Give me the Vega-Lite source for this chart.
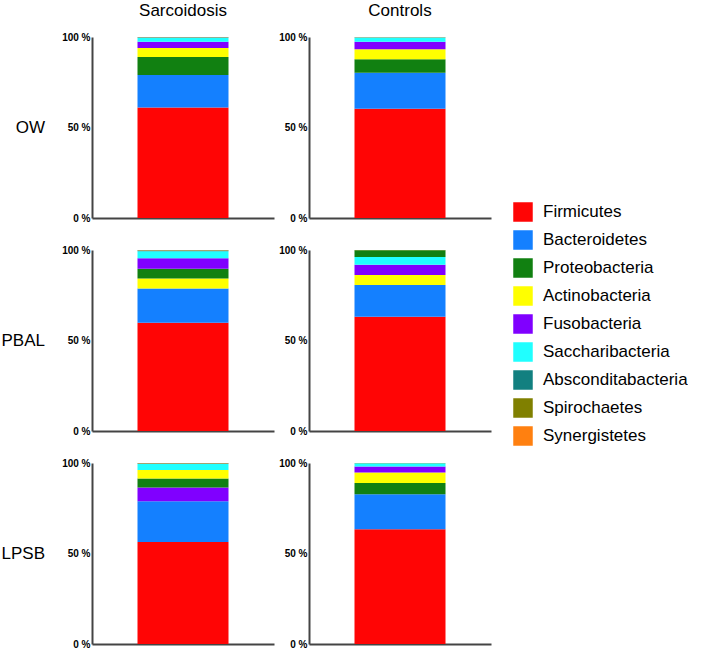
{
  "$schema": "https://vega.github.io/schema/vega-lite/v6.json",
  "padding": {"left": 1, "top": 2, "right": 0, "bottom": 0},
  "data": {"values": [
    {"site": "OW", "group": "Sarcoidosis", "bar": "a", "phylum": "Firmicutes", "rank": 1, "value": 61.0},
    {"site": "OW", "group": "Sarcoidosis", "bar": "a", "phylum": "Bacteroidetes", "rank": 2, "value": 18.0},
    {"site": "OW", "group": "Sarcoidosis", "bar": "a", "phylum": "Proteobacteria", "rank": 3, "value": 9.9},
    {"site": "OW", "group": "Sarcoidosis", "bar": "a", "phylum": "Actinobacteria", "rank": 4, "value": 5.0},
    {"site": "OW", "group": "Sarcoidosis", "bar": "a", "phylum": "Fusobacteria", "rank": 5, "value": 3.5},
    {"site": "OW", "group": "Sarcoidosis", "bar": "a", "phylum": "Saccharibacteria", "rank": 6, "value": 2.2},
    {"site": "OW", "group": "Sarcoidosis", "bar": "a", "phylum": "Absconditabacteria", "rank": 7, "value": 0.2},
    {"site": "OW", "group": "Sarcoidosis", "bar": "a", "phylum": "Spirochaetes", "rank": 8, "value": 0.1},
    {"site": "OW", "group": "Sarcoidosis", "bar": "a", "phylum": "Synergistetes", "rank": 9, "value": 0.1},

    {"site": "OW", "group": "Controls", "bar": "a", "phylum": "Firmicutes", "rank": 1, "value": 60.4},
    {"site": "OW", "group": "Controls", "bar": "a", "phylum": "Bacteroidetes", "rank": 2, "value": 19.9},
    {"site": "OW", "group": "Controls", "bar": "a", "phylum": "Proteobacteria", "rank": 3, "value": 7.4},
    {"site": "OW", "group": "Controls", "bar": "a", "phylum": "Actinobacteria", "rank": 4, "value": 5.5},
    {"site": "OW", "group": "Controls", "bar": "a", "phylum": "Fusobacteria", "rank": 5, "value": 4.2},
    {"site": "OW", "group": "Controls", "bar": "a", "phylum": "Saccharibacteria", "rank": 6, "value": 2.3},
    {"site": "OW", "group": "Controls", "bar": "a", "phylum": "Absconditabacteria", "rank": 7, "value": 0.1},
    {"site": "OW", "group": "Controls", "bar": "a", "phylum": "Spirochaetes", "rank": 8, "value": 0.1},
    {"site": "OW", "group": "Controls", "bar": "a", "phylum": "Synergistetes", "rank": 9, "value": 0.1},

    {"site": "PBAL", "group": "Sarcoidosis", "bar": "a", "phylum": "Firmicutes", "rank": 1, "value": 59.8},
    {"site": "PBAL", "group": "Sarcoidosis", "bar": "a", "phylum": "Bacteroidetes", "rank": 2, "value": 18.9},
    {"site": "PBAL", "group": "Sarcoidosis", "bar": "a", "phylum": "Actinobacteria", "rank": 3, "value": 5.5},
    {"site": "PBAL", "group": "Sarcoidosis", "bar": "a", "phylum": "Proteobacteria", "rank": 4, "value": 5.5},
    {"site": "PBAL", "group": "Sarcoidosis", "bar": "a", "phylum": "Fusobacteria", "rank": 5, "value": 5.7},
    {"site": "PBAL", "group": "Sarcoidosis", "bar": "a", "phylum": "Saccharibacteria", "rank": 6, "value": 3.9},
    {"site": "PBAL", "group": "Sarcoidosis", "bar": "a", "phylum": "Absconditabacteria", "rank": 7, "value": 0.4},
    {"site": "PBAL", "group": "Sarcoidosis", "bar": "a", "phylum": "Spirochaetes", "rank": 8, "value": 0.2},
    {"site": "PBAL", "group": "Sarcoidosis", "bar": "a", "phylum": "Synergistetes", "rank": 9, "value": 0.1},

    {"site": "PBAL", "group": "Controls", "bar": "a", "phylum": "Firmicutes", "rank": 1, "value": 63.1},
    {"site": "PBAL", "group": "Controls", "bar": "a", "phylum": "Bacteroidetes", "rank": 2, "value": 17.5},
    {"site": "PBAL", "group": "Controls", "bar": "a", "phylum": "Actinobacteria", "rank": 3, "value": 5.6},
    {"site": "PBAL", "group": "Controls", "bar": "a", "phylum": "Fusobacteria", "rank": 4, "value": 5.7},
    {"site": "PBAL", "group": "Controls", "bar": "a", "phylum": "Saccharibacteria", "rank": 5, "value": 4.2},
    {"site": "PBAL", "group": "Controls", "bar": "a", "phylum": "Proteobacteria", "rank": 6, "value": 3.7},
    {"site": "PBAL", "group": "Controls", "bar": "a", "phylum": "Absconditabacteria", "rank": 7, "value": 0.1},
    {"site": "PBAL", "group": "Controls", "bar": "a", "phylum": "Spirochaetes", "rank": 8, "value": 0.05},
    {"site": "PBAL", "group": "Controls", "bar": "a", "phylum": "Synergistetes", "rank": 9, "value": 0.05},

    {"site": "LPSB", "group": "Sarcoidosis", "bar": "a", "phylum": "Firmicutes", "rank": 1, "value": 56.4},
    {"site": "LPSB", "group": "Sarcoidosis", "bar": "a", "phylum": "Bacteroidetes", "rank": 2, "value": 22.5},
    {"site": "LPSB", "group": "Sarcoidosis", "bar": "a", "phylum": "Fusobacteria", "rank": 3, "value": 7.5},
    {"site": "LPSB", "group": "Sarcoidosis", "bar": "a", "phylum": "Proteobacteria", "rank": 4, "value": 5.1},
    {"site": "LPSB", "group": "Sarcoidosis", "bar": "a", "phylum": "Actinobacteria", "rank": 5, "value": 4.6},
    {"site": "LPSB", "group": "Sarcoidosis", "bar": "a", "phylum": "Saccharibacteria", "rank": 6, "value": 3.3},
    {"site": "LPSB", "group": "Sarcoidosis", "bar": "a", "phylum": "Absconditabacteria", "rank": 7, "value": 0.3},
    {"site": "LPSB", "group": "Sarcoidosis", "bar": "a", "phylum": "Spirochaetes", "rank": 8, "value": 0.2},
    {"site": "LPSB", "group": "Sarcoidosis", "bar": "a", "phylum": "Synergistetes", "rank": 9, "value": 0.1},

    {"site": "LPSB", "group": "Controls", "bar": "a", "phylum": "Firmicutes", "rank": 1, "value": 63.4},
    {"site": "LPSB", "group": "Controls", "bar": "a", "phylum": "Bacteroidetes", "rank": 2, "value": 19.3},
    {"site": "LPSB", "group": "Controls", "bar": "a", "phylum": "Proteobacteria", "rank": 3, "value": 6.3},
    {"site": "LPSB", "group": "Controls", "bar": "a", "phylum": "Actinobacteria", "rank": 4, "value": 5.7},
    {"site": "LPSB", "group": "Controls", "bar": "a", "phylum": "Fusobacteria", "rank": 5, "value": 3.3},
    {"site": "LPSB", "group": "Controls", "bar": "a", "phylum": "Saccharibacteria", "rank": 6, "value": 1.8},
    {"site": "LPSB", "group": "Controls", "bar": "a", "phylum": "Absconditabacteria", "rank": 7, "value": 0.1},
    {"site": "LPSB", "group": "Controls", "bar": "a", "phylum": "Spirochaetes", "rank": 8, "value": 0.05},
    {"site": "LPSB", "group": "Controls", "bar": "a", "phylum": "Synergistetes", "rank": 9, "value": 0.05}
  ]},
  "facet": {
    "row": {"field": "site", "type": "nominal", "sort": ["OW", "PBAL", "LPSB"],
      "header": {"title": null, "labelAngle": 0, "labelAlign": "left", "labelFontSize": 17, "labelPadding": 47, "labelColor": "#000"}},
    "column": {"field": "group", "type": "nominal", "sort": ["Sarcoidosis", "Controls"],
      "header": {"title": null, "labelFontSize": 17, "labelPadding": 17, "labelColor": "#000"}}
  },
  "spacing": {"row": 32, "column": 35},
  "bounds": "flush",
  "resolve": {"axis": {"x": "independent", "y": "independent"}},
  "spec": {
    "width": 182,
    "height": 181,
    "mark": {"type": "bar"},
    "encoding": {
      "x": {"field": "bar", "type": "nominal",
        "scale": {"paddingInner": 0, "paddingOuter": 0.5},
        "axis": {"title": null, "labels": false, "ticks": false, "domainColor": "#444", "domainWidth": 2}},
      "y": {"field": "value", "type": "quantitative", "stack": "zero",
        "scale": {"domain": [0, 100], "nice": false},
        "axis": {"title": null, "values": [0, 50, 100], "labelExpr": "datum.value + ' %'", "grid": false, "ticks": false,
          "labelPadding": 2, "labelFontWeight": "bold", "labelFontSize": 10, "labelColor": "#000", "domainColor": "#444", "domainWidth": 2}},
      "color": {"field": "phylum", "type": "nominal",
        "scale": {
          "domain": ["Firmicutes", "Bacteroidetes", "Proteobacteria", "Actinobacteria", "Fusobacteria", "Saccharibacteria", "Absconditabacteria", "Spirochaetes", "Synergistetes"],
          "range": ["#ff0505", "#1480ff", "#118011", "#ffff00", "#8000ff", "#20ffff", "#128080", "#808000", "#ff8010"]},
        "legend": {"title": null, "orient": "none", "legendX": 421, "legendY": 165, "symbolType": "square", "symbolSize": 380,
          "symbolStrokeWidth": 0, "labelFontSize": 17, "labelColor": "#000", "rowPadding": 8, "labelOffset": 10}},
      "order": {"field": "rank", "type": "quantitative"}
    }
  },
  "config": {"font": "Liberation Sans", "view": {"stroke": null}}
}
